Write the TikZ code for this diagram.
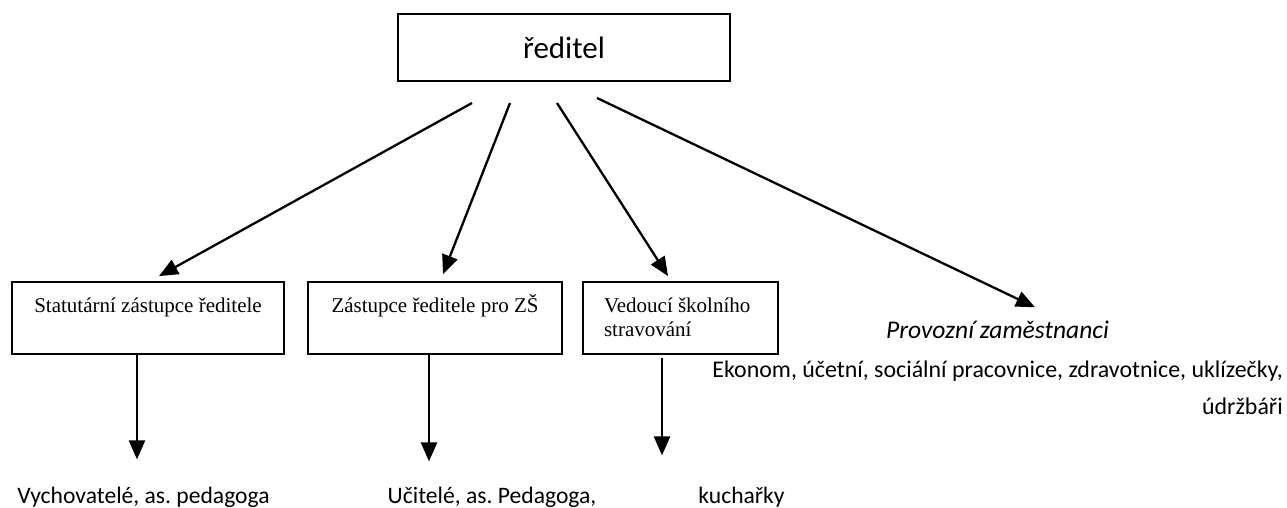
\documentclass[tikz,border=0pt]{standalone}
\usepackage{fontspec}
\setmainfont{Liberation Serif}
\newfontfamily\calibri{Carlito}
\usepackage{tikz}
\usetikzlibrary{arrows.meta}
\pgfdeclarelayer{nodelayer}
\pgfdeclarelayer{edgelayer}
\pgfsetlayers{nodelayer,edgelayer,main}
\frenchspacing

\tikzset{
  unitbox/.style={draw, line width=1.8pt, inner sep=0pt, minimum height=72pt,
    text height=30pt, text depth=42pt, font=\fontsize{21}{24}\selectfont},
  staff/.style={inner sep=0pt, anchor=base, font=\calibri\fontsize{23.6}{37}\selectfont},
  link/.style={line width=2.3pt, -{Triangle[length=19pt,width=16pt]}},
}

\begin{document}
\begin{tikzpicture}[x=1pt, y=-1pt]
  \useasboundingbox (0,0) rectangle (1287,508);
  \begin{pgfonlayer}{nodelayer}
    \node [draw, line width=1.8pt, inner sep=0pt, minimum width=332pt, minimum height=67pt,
      font=\calibri\fontsize{31}{36}\selectfont] (head) at (564,47.5) {ředitel};
    \node [unitbox, minimum width=272pt] (dep) at (148,318) {Statutární zástupce ředitele};
    \node [unitbox, minimum width=254pt] (zs) at (435,318) {Zástupce ředitele pro ZŠ};
    \node [unitbox, text width=153pt, inner xsep=21pt, align=flush left] (food) at (680.5,318)
      {Vedoucí školního\\stravování};
    \node [staff, font=\calibri\itshape\fontsize{25.5}{30}\selectfont] (ops) at (997.5,338)
      {Provozní zaměstnanci};
    % base anchor sits on the last line here
    \node [staff, anchor=base east, align=right, font=\calibri\fontsize{23.9}{37}\selectfont]
      (opslist) at (1283,414)
      {Ekonom, účetní, sociální pracovnice, zdravotnice, uklízečky,\\údržbáři};
    \node [staff] (tutors) at (143.5,503) {Vychovatelé, as. pedagoga};
    \node [staff] (teachers) at (492,503) {Učitelé, as. Pedagoga,};
    \node [staff] (cooks) at (741.5,503) {kuchařky};
    \coordinate (h1) at (472,103);
    \coordinate (h2) at (510,103);
    \coordinate (h3) at (557,103);
    \coordinate (h4) at (597,98);
  \end{pgfonlayer}
  \begin{pgfonlayer}{edgelayer}
    \draw [link] (h1) to ([xshift=11pt,yshift=5pt]dep.north);
    \draw [link] (h2) to ([xshift=8pt,yshift=7pt]zs.north);
    \draw [link] (h3) to ([xshift=-12.5pt,yshift=5pt]food.north);
    \draw [link] (h4) to ([xshift=37.5pt,yshift=13pt]ops.north);
    \draw [link] ([xshift=-11pt]dep.south) to ([xshift=-6.5pt,yshift=27pt]tutors.north);
    \draw [link] ([xshift=-6pt]zs.south) to ([xshift=-63pt,yshift=25pt]teachers.north);
    \draw [link] ([xshift=-18.5pt,yshift=-3pt]food.south) to ([xshift=-79.5pt,yshift=31pt]cooks.north);
  \end{pgfonlayer}
\end{tikzpicture}
\end{document}
